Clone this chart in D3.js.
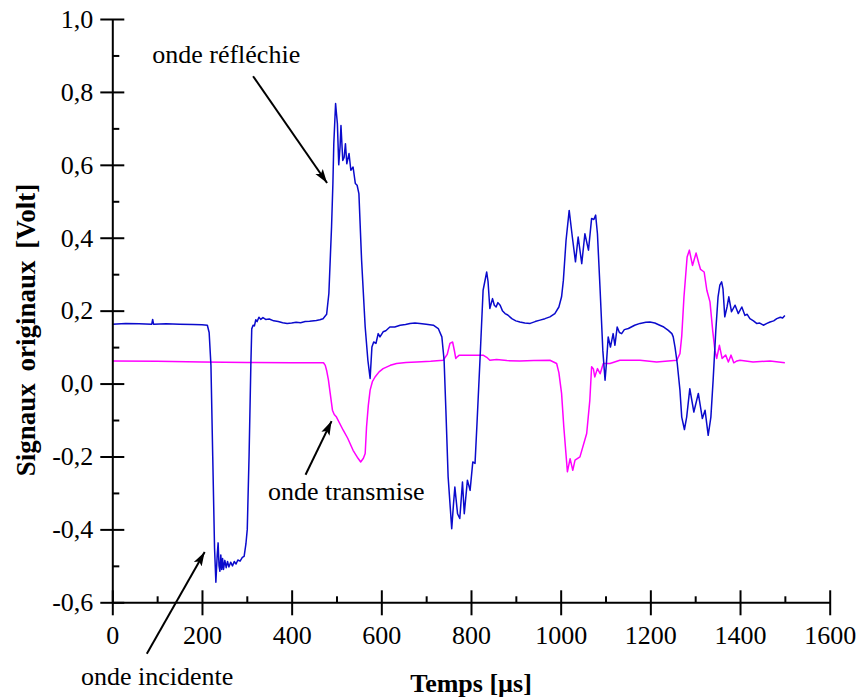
<!DOCTYPE html>
<html>
<head>
<meta charset="utf-8">
<script src="https://cdn.jsdelivr.net/npm/d3@7"></script>
<style>
  html, body { margin: 0; padding: 0; background: #fff; }
  svg { display: block; }
  text { font-family: "Liberation Serif", "Times New Roman", serif; }
</style>
</head>
<body>
<svg id="chart" width="859" height="700"></svg>
<script>
// ---------- data ----------
const xTicks = [0, 200, 400, 600, 800, 1000, 1200, 1400, 1600];
const xMinor = [100, 300, 500, 700, 900, 1100, 1300, 1500];
const yTicks = [-0.6, -0.4, -0.2, 0.0, 0.2, 0.4, 0.6, 0.8, 1.0];
const yMinor = [-0.5, -0.3, -0.1, 0.1, 0.3, 0.5, 0.7, 0.9];

const xTitle = "Temps [µs]";
const yTitle = "Signaux originaux [Volt]";

// Blue signal (incident + reflected)
const blueTime = [0,30,60,88,90,92,120,150,180,200,212,216,220,224,228,231,234,236,238,240,242,244,246,248,251,254,257,260,264,268,272,276,280,285,290,294,298,301,305,309,311,314,317,320,323,327,331,336,342,350,360,370,380,390,400,410,420,430,440,455,463,470,478,483,489,492,494,498,500,502,505,508,510,514,517,520,523,528,532,537,542,546,550,556,564,570,575,579,583,588,593,597,604,610,619,630,642,654,664,675,686,700,716,727,735,740,744,749,757,761,764,770,775,781,785,792,798,804,809,813,820,827,835,838,842,848,852,856,860,865,870,876,882,891,900,909,920,932,943,954,965,976,987,996,1002,1006,1012,1019,1026,1033,1039,1047,1054,1062,1069,1074,1078,1082,1088,1094,1099,1102,1106,1111,1117,1121,1126,1131,1136,1142,1151,1165,1177,1190,1199,1210,1221,1230,1240,1248,1251,1255,1260,1266,1270,1276,1281,1288,1297,1307,1316,1322,1329,1335,1340,1346,1351,1355,1359,1362,1366,1371,1375,1381,1389,1396,1404,1411,1416,1422,1430,1437,1444,1452,1460,1467,1475,1482,1490,1495,1500];
const blueVolt = [0.163,0.165,0.164,0.163,0.176,0.163,0.164,0.163,0.162,0.161,0.160,0.140,0.05,-0.2,-0.45,-0.545,-0.47,-0.437,-0.50,-0.515,-0.47,-0.51,-0.48,-0.51,-0.485,-0.505,-0.488,-0.503,-0.49,-0.500,-0.488,-0.495,-0.484,-0.487,-0.477,-0.474,-0.44,-0.40,-0.2,0.05,0.150,0.160,0.158,0.175,0.170,0.182,0.176,0.181,0.176,0.177,0.172,0.170,0.167,0.165,0.166,0.168,0.167,0.170,0.171,0.173,0.175,0.178,0.190,0.247,0.43,0.549,0.658,0.768,0.74,0.713,0.60,0.65,0.708,0.612,0.62,0.658,0.603,0.631,0.585,0.594,0.549,0.544,0.521,0.338,0.155,0.064,0.014,0.100,0.114,0.110,0.137,0.128,0.142,0.145,0.155,0.155,0.160,0.162,0.165,0.166,0.165,0.163,0.160,0.151,0.128,0.064,-0.073,-0.256,-0.398,-0.33,-0.284,-0.357,-0.37,-0.27,-0.357,-0.265,-0.293,-0.215,-0.219,-0.119,0.064,0.256,0.306,0.28,0.206,0.233,0.215,0.21,0.222,0.215,0.200,0.192,0.188,0.178,0.172,0.169,0.166,0.165,0.170,0.174,0.178,0.183,0.192,0.21,0.238,0.283,0.393,0.475,0.402,0.334,0.402,0.329,0.411,0.366,0.453,0.45,0.462,0.411,0.256,0.091,0.009,0.055,0.128,0.100,0.137,0.105,0.155,0.14,0.137,0.148,0.151,0.160,0.165,0.168,0.169,0.166,0.160,0.155,0.146,0.137,0.128,0.10,0.055,-0.018,-0.092,-0.126,-0.092,-0.014,-0.078,-0.027,-0.096,-0.073,-0.142,-0.092,0.009,0.146,0.238,0.27,0.279,0.26,0.183,0.21,0.238,0.197,0.215,0.192,0.21,0.187,0.19,0.178,0.172,0.165,0.166,0.160,0.165,0.169,0.172,0.178,0.182,0.180,0.187];

// Magenta signal (transmitted)
const pinkTime = [0,100,200,300,400,471,475,478,482,486,491,495,500,515,525,537,548,554,560,564,567,571,575,580,586,595,604,620,634,655,679,710,738,747,753,759,763,766,770,774,798,827,835,842,857,880,909,940,976,991,996,1002,1007,1015,1021,1027,1032,1043,1058,1065,1069,1073,1076,1082,1088,1095,1110,1132,1177,1214,1259,1266,1270,1275,1282,1287,1294,1302,1308,1312,1320,1326,1333,1339,1344,1348,1354,1360,1368,1374,1380,1386,1393,1400,1429,1467,1500];
const pinkVolt = [0.062,0.061,0.059,0.058,0.057,0.057,0.050,0.036,0.01,-0.027,-0.073,-0.085,-0.092,-0.128,-0.15,-0.183,-0.205,-0.215,-0.205,-0.192,-0.119,-0.06,-0.018,0.005,0.018,0.032,0.041,0.050,0.055,0.058,0.059,0.061,0.064,0.08,0.110,0.114,0.09,0.069,0.074,0.078,0.078,0.078,0.072,0.064,0.066,0.063,0.062,0.063,0.064,0.055,0.03,-0.027,-0.119,-0.242,-0.206,-0.238,-0.210,-0.201,-0.137,-0.046,0.046,0.04,0.018,0.041,0.027,0.055,0.055,0.064,0.064,0.059,0.064,0.082,0.13,0.238,0.347,0.366,0.324,0.358,0.33,0.313,0.306,0.256,0.224,0.146,0.091,0.069,0.105,0.069,0.078,0.059,0.078,0.057,0.062,0.064,0.059,0.062,0.057];

// Annotations (text anchor and arrow in data units)
const annoText  = ["onde réfléchie", "onde transmise", "onde incidente"];
const annoTextT = [89, 347, -70];
const annoTextV = [0.879, -0.320, -0.826];
const arrowFromT = [314, 431, 77];
const arrowFromV = [0.843, -0.250, -0.741];
const arrowToT   = [479, 489, 206];
const arrowToV   = [0.550, -0.103, -0.462];

// ---------- drawing ----------
const svg = d3.select("#chart");
const x = d3.scaleLinear().domain([0, 1600]).range([112.3, 829.7]);
const y = d3.scaleLinear().domain([-0.6, 1.0]).range([602.3, 19]);
const fmtY = d => d3.format(".1f")(d).replace(".", ",").replace("−", "-");

// Lines
const line = d3.line().x(d => x(d[0])).y(d => y(d[1]));
svg.append("path")
  .datum(pinkTime.map((t, i) => [t, pinkVolt[i]]))
  .attr("d", line).attr("fill", "none")
  .attr("stroke", "#ff00ff").attr("stroke-width", 1.5).attr("stroke-linejoin", "round");
svg.append("path")
  .datum(blueTime.map((t, i) => [t, blueVolt[i]]))
  .attr("d", line).attr("fill", "none")
  .attr("stroke", "#0a0acc").attr("stroke-width", 1.5).attr("stroke-linejoin", "round");

// Axes
const fontSize = 26;
const gy = svg.append("g").attr("transform", `translate(${x(0)},0)`)
  .call(d3.axisLeft(y).tickValues(yTicks).tickFormat(fmtY).tickSize(12).tickSizeOuter(0).tickPadding(7));
gy.selectAll(".tick line").attr("x1", 12).attr("x2", -12);
const gyMinor = svg.append("g").attr("transform", `translate(${x(0)},0)`)
  .call(d3.axisRight(y).tickValues(yMinor).tickFormat("").tickSize(7).tickSizeOuter(0));
gyMinor.select(".domain").remove();

const gx = svg.append("g").attr("transform", `translate(0,${y(-0.6)})`)
  .call(d3.axisBottom(x).tickValues(xTicks).tickFormat(d3.format("d")).tickSize(12).tickSizeOuter(0).tickPadding(11.5));
gx.selectAll(".tick line").attr("y1", -12).attr("y2", 13);
const gxMinor = svg.append("g").attr("transform", `translate(0,${y(-0.6)})`)
  .call(d3.axisTop(x).tickValues(xMinor).tickFormat("").tickSize(6).tickSizeOuter(0));
gxMinor.select(".domain").remove();

svg.selectAll(".domain, .tick line").attr("stroke", "#000").attr("stroke-width", 2);
svg.selectAll(".tick text")
  .attr("font-family", "'Liberation Serif', 'Times New Roman', serif")
  .attr("font-size", fontSize).attr("fill", "#000");

// Axis titles
svg.append("text")
  .attr("x", 471).attr("y", 692)
  .attr("text-anchor", "middle").attr("font-weight", "bold").attr("font-size", fontSize)
  .text(xTitle);
svg.append("text")
  .attr("transform", "translate(35,330) rotate(-90)")
  .attr("text-anchor", "middle").attr("font-weight", "bold").attr("font-size", 27)
  .attr("word-spacing", 5)
  .text(yTitle);

// Arrow marker
svg.append("defs").append("marker")
  .attr("id", "arrow").attr("markerUnits", "userSpaceOnUse")
  .attr("viewBox", "0 -5 14 10").attr("refX", 14).attr("refY", 0)
  .attr("markerWidth", 14).attr("markerHeight", 10).attr("orient", "auto")
  .append("path").attr("d", "M0,-4.5L14,0L0,4.5L3,0Z").attr("fill", "#000");

annoText.forEach((t, i) => {
  svg.append("text")
    .attr("x", x(annoTextT[i])).attr("y", y(annoTextV[i]))
    .attr("font-size", fontSize).attr("fill", "#000")
    .text(t);
  svg.append("line")
    .attr("x1", x(arrowFromT[i])).attr("y1", y(arrowFromV[i]))
    .attr("x2", x(arrowToT[i])).attr("y2", y(arrowToV[i]))
    .attr("stroke", "#000").attr("stroke-width", 2)
    .attr("marker-end", "url(#arrow)");
});
</script>
</body>
</html>
